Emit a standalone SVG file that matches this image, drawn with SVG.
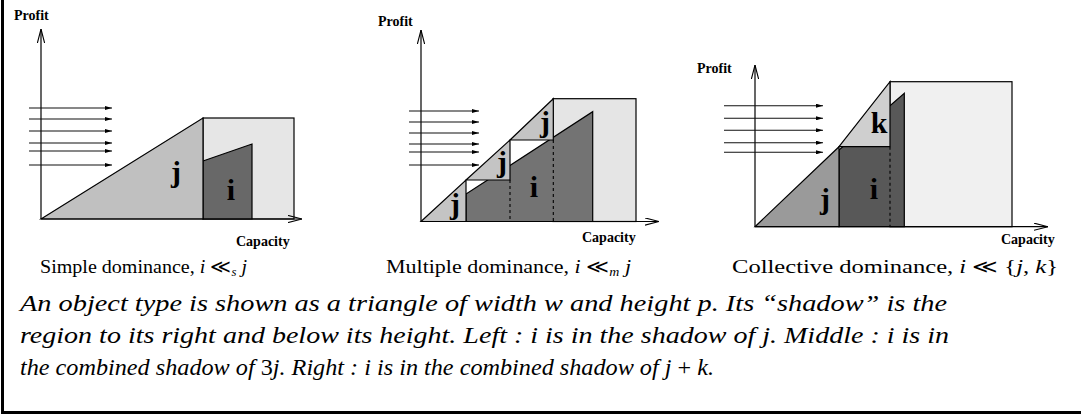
<svg xmlns="http://www.w3.org/2000/svg" width="1081" height="418" viewBox="0 0 1081 418">
<defs>
<style>
.ax{stroke:#000;stroke-width:1.2;fill:none}
.ha{stroke:#111;stroke-width:1.1;fill:none}
.sh{stroke:#000;stroke-width:1.2}
.dash{stroke:#000;stroke-width:1.1;stroke-dasharray:3,3;fill:none}
.lab{font-family:"Liberation Serif",serif;font-weight:bold;font-size:14px;fill:#000}
.big{font-family:"Liberation Serif",serif;font-weight:bold;font-size:30px;fill:#000;text-anchor:middle}
.cap{font-family:"Liberation Serif","DejaVu Serif",serif;font-size:19px;fill:#000}
.it{font-style:italic}
.body{font-family:"Liberation Serif","DejaVu Serif",serif;font-style:italic;font-size:23px;fill:#000}
</style>
<marker id="open" viewBox="0 0 14 8" refX="14" refY="4" markerWidth="14" markerHeight="8" orient="auto" markerUnits="userSpaceOnUse"><path d="M0,0.4 L14,4 L0,7.6" fill="none" stroke="#000" stroke-width="1.1"/></marker>
<marker id="tip" viewBox="0 0 7 4" refX="7" refY="2" markerWidth="7" markerHeight="4" orient="auto" markerUnits="userSpaceOnUse"><path d="M0,0 L7,2 L0,4z" fill="#000"/></marker>
</defs>
<rect x="0" y="0" width="1081" height="418" fill="#fff"/>
<!-- frame -->
<rect x="1" y="0" width="3" height="414" fill="#000"/>
<rect x="1" y="411" width="1080" height="3" fill="#000"/>

<!-- Panel 1: simple dominance -->
<g id="panel1">
<g id="p1-shadow"><rect class="sh" x="203" y="118" width="91" height="101" fill="#e6e6e6"/></g>
<g id="p1-i"><polygon class="sh" points="203,161 252,144 252,219 203,219" fill="#686868"/><text class="big" x="231" y="200">i</text></g>
<g id="p1-j"><polygon class="sh" points="41,219 203,118 203,219" fill="#c0c0c0"/><text class="big" x="176" y="182">j</text></g>
<text class="lab" x="14" y="20">Profit</text>
<text class="lab" x="236" y="246">Capacity</text>
<text class="cap" x="40" y="273" textLength="207" lengthAdjust="spacingAndGlyphs">Simple dominance, <tspan class="it">i</tspan> ≪<tspan class="it" font-size="12" dy="3">s</tspan><tspan class="it" dy="-3"> j</tspan></text>
</g>

<!-- Panel 2: multiple dominance -->
<g id="panel2">
<g id="p2-shadow"><rect class="sh" x="553" y="98.7" width="83" height="122.8" fill="#e5e5e5"/></g>
<g id="p2-i"><polygon class="sh" points="466,221.5 466,194 592.7,111.7 592.7,221.5" fill="#737373"/><text class="big" x="534" y="197" font-size="28">i</text></g>
<g id="p2-j1"><polygon class="sh" points="421,221.5 466,180 466,221.5" fill="#c4c4c4"/><text class="big" x="455" y="214" font-size="28">j</text></g>
<g id="p2-j2"><polygon class="sh" points="466,180 510,140 510,180" fill="#c4c4c4"/><text class="big" x="502" y="172" font-size="28">j</text></g>
<g id="p2-j3"><polygon class="sh" points="510,140 553.3,98.7 553.3,140" fill="#c4c4c4"/><text class="big" x="545" y="132" font-size="28">j</text></g>
<text class="lab" x="378" y="26">Profit</text>
<text class="lab" x="582" y="242">Capacity</text>
<text class="cap" x="386" y="273" textLength="245" lengthAdjust="spacingAndGlyphs">Multiple dominance, <tspan class="it">i</tspan> ≪<tspan class="it" font-size="12" dy="3">m</tspan><tspan class="it" dy="-3"> j</tspan></text>
</g>

<!-- Panel 3: collective dominance -->
<g id="panel3">
<g id="p3-shadow"><rect class="sh" x="890" y="81.7" width="122" height="145" fill="#f0f0f0"/></g>
<g id="p3-i"><polygon class="sh" points="839,150 904.3,93.3 904.3,226.7 839,226.7" fill="#585858"/><text class="big" x="874" y="199" font-size="28">i</text></g>
<g id="p3-k"><polygon class="sh" points="839,146.7 890,81.7 890,146.7" fill="#cfcfcf"/><text class="big" x="879" y="133" font-size="28">k</text></g>
<g id="p3-j"><polygon class="sh" points="755,226.7 839,146.7 839,226.7" fill="#9a9a9a"/><text class="big" x="825" y="209" font-size="28">j</text></g>
<text class="lab" x="697" y="73">Profit</text>
<text class="lab" x="1001" y="244">Capacity</text>
<text class="cap" x="732" y="273" textLength="326" lengthAdjust="spacingAndGlyphs">Collective dominance, <tspan class="it">i</tspan> ≪ {<tspan class="it">j</tspan>, <tspan class="it">k</tspan>}</text>
</g>

<!-- connectors: axes, arrows, dashed lines -->
<g id="connectors">
<line class="ax" x1="41" y1="219" x2="41" y2="29" marker-end="url(#open)"/>
<line class="ax" x1="41" y1="219" x2="302" y2="219" marker-end="url(#open)"/>
<line class="ha" x1="29" y1="108" x2="112" y2="108" marker-end="url(#tip)"/>
<line class="ha" x1="29" y1="119" x2="112" y2="119" marker-end="url(#tip)"/>
<line class="ha" x1="29" y1="131" x2="112" y2="131" marker-end="url(#tip)"/>
<line class="ha" x1="29" y1="143" x2="112" y2="143" marker-end="url(#tip)"/>
<line class="ha" x1="29" y1="151" x2="112" y2="151" marker-end="url(#tip)"/>
<line class="ha" x1="29" y1="165" x2="112" y2="165" marker-end="url(#tip)"/>

<line class="ax" x1="421" y1="221.5" x2="421" y2="30" marker-end="url(#open)"/>
<line class="ax" x1="421" y1="221.5" x2="659" y2="221.5" marker-end="url(#open)"/>
<line class="ha" x1="409" y1="111" x2="479" y2="111" marker-end="url(#tip)"/>
<line class="ha" x1="409" y1="122" x2="479" y2="122" marker-end="url(#tip)"/>
<line class="ha" x1="409" y1="133" x2="479" y2="133" marker-end="url(#tip)"/>
<line class="ha" x1="409" y1="144" x2="479" y2="144" marker-end="url(#tip)"/>
<line class="ha" x1="409" y1="152" x2="479" y2="152" marker-end="url(#tip)"/>
<line class="ha" x1="409" y1="165" x2="479" y2="165" marker-end="url(#tip)"/>
<line class="dash" x1="510" y1="180" x2="510" y2="221.5"/>
<line class="dash" x1="553.3" y1="140" x2="553.3" y2="221.5"/>

<line class="ax" x1="755" y1="226.7" x2="755" y2="65" marker-end="url(#open)"/>
<line class="ax" x1="755" y1="226.7" x2="1048" y2="226.7" marker-end="url(#open)"/>
<line class="ha" x1="724" y1="105.7" x2="823" y2="105.7" marker-end="url(#tip)"/>
<line class="ha" x1="724" y1="118.3" x2="823" y2="118.3" marker-end="url(#tip)"/>
<line class="ha" x1="724" y1="130.3" x2="823" y2="130.3" marker-end="url(#tip)"/>
<line class="ha" x1="724" y1="142.7" x2="823" y2="142.7" marker-end="url(#tip)"/>
<line class="ha" x1="724" y1="152.3" x2="823" y2="152.3" marker-end="url(#tip)"/>
<line class="dash" x1="890" y1="146.7" x2="890" y2="226.7"/>
</g>

<!-- description -->
<g id="description">
<text class="body" x="20" y="311" textLength="927" lengthAdjust="spacingAndGlyphs">An object type is shown as a triangle of width w and height p. Its “shadow” is the</text>
<text class="body" x="20" y="343" textLength="929" lengthAdjust="spacingAndGlyphs">region to its right and below its height. Left : i is in the shadow of j. Middle : i is in</text>
<text class="body" x="20" y="375" textLength="694" lengthAdjust="spacingAndGlyphs">the combined shadow of <tspan font-style="normal">3</tspan>j. Right : i is in the combined shadow of j <tspan font-style="normal">+</tspan> k.</text>
</g>
</svg>
